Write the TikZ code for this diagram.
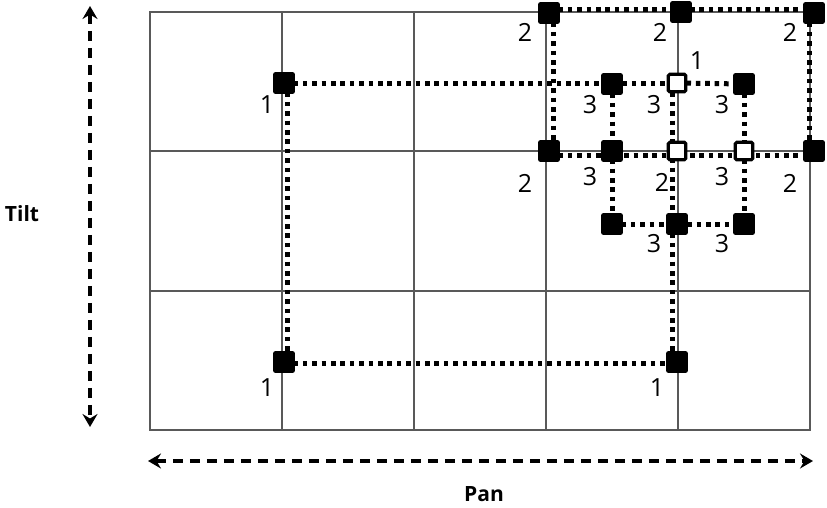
\documentclass[tikz,border=0pt]{standalone}
\usepackage{fontspec}
\setmainfont{Open Sans}
\usetikzlibrary{arrows.meta}
\begin{document}
\begin{tikzpicture}[x=1pt,y=-1pt,
  gridline/.style={draw=black!65,line width=1.4pt},
  blk/.style={fill=black,draw=black,line width=0.8pt,minimum size=21pt,inner sep=0pt,rounded corners=2pt},
  wht/.style={fill=white,draw=black,line width=3.2pt,minimum size=17.5pt,inner sep=0pt,rounded corners=1.5pt},
  dots/.style={draw=black,line width=5pt,dash pattern=on 4.6pt off 4.8pt},
  lbl/.style={font=\fontsize{25}{25}\selectfont,inner sep=0pt},
  axis/.style={draw=black,line width=3.4pt,dash pattern=on 10pt off 7pt,{Stealth[length=13pt,width=15pt,inset=4.5pt]}-{Stealth[length=13pt,width=15pt,inset=4.5pt]}},
  axlbl/.style={font=\fontsize{21}{21}\selectfont\bfseries,inner sep=0pt}]
\useasboundingbox (0,0) rectangle (827,507);
% grid
\foreach \x in {282,414,546,678} \draw[gridline] (\x,12) -- (\x,430);
\foreach \y in {151,291} \draw[gridline] (150,\y) -- (810,\y);
\draw[gridline] (150,12) rectangle (810,430);
% positions
\coordinate (s1a) at (284,83);
\coordinate (s1b) at (677,83);
\coordinate (s1c) at (284,362);
\coordinate (s1d) at (677,362);
\coordinate (s2a) at (549,13);
\coordinate (s2b) at (681,12);
\coordinate (s2c) at (814,13);
\coordinate (s2d) at (549,151);
\coordinate (s2e) at (677,151);
\coordinate (s2f) at (814,151);
\coordinate (s3a) at (612,84);
\coordinate (s3c) at (744,84);
\coordinate (s3d) at (612,151);
\coordinate (s3f) at (744,151);
\coordinate (s3g) at (612,224);
\coordinate (s3h) at (677,224);
\coordinate (s3i) at (744,224);
% dotted connectors
\draw[dots] (s1a) -- (s1b);
\draw[dots] ([xshift=3pt]s1a) -- ([xshift=3pt]s1c);
\draw[dots] ([yshift=-1pt]s1c) -- ([yshift=-1pt]s1d);
\draw[dots] ([xshift=-5pt]s1b) -- ([xshift=-5pt]s1d);
\draw[dots] ([yshift=4pt]s2a) -- ([yshift=4pt]s2c);
\draw[dots] ([xshift=4pt]s2a) -- ([xshift=4pt]s2d);
\draw[dots] ([xshift=-5pt]s2c) -- ([xshift=-5pt]s2f);
\draw[dots] ([yshift=-4pt]s2d) -- ([yshift=-4pt]s2f);
\draw[dots] (s1b) -- (s3c);
\draw[dots] (s3a) -- (s3g);
\draw[dots] (s3c) -- (s3i);
\draw[dots] (s3g) -- (s3i);
% squares
\foreach \n in {s1a,s1c,s1d,s2a,s2b,s2c,s2d,s2f,s3a,s3c,s3d,s3g,s3h,s3i}
  \node[blk] (n\n) at (\n) {};
\foreach \n in {s1b,s2e,s3f}
  \node[wht] (n\n) at (\n) {};
% labels
\node[lbl] (l1a) at (267,105) {1};
\node[lbl] (l1b) at (697,61) {1};
\node[lbl] (l1c) at (267,388) {1};
\node[lbl] (l1d) at (657,388) {1};
\node[lbl] (l2a) at (525,32) {2};
\node[lbl] (l2b) at (660,32) {2};
\node[lbl] (l2c) at (790,32) {2};
\node[lbl] (l2d) at (525,183) {2};
\node[lbl] (l2e) at (662,182) {2};
\node[lbl] (l2f) at (790,183) {2};
\node[lbl] (l3a) at (590,105) {3};
\node[lbl] (l3b) at (654,105) {3};
\node[lbl] (l3c) at (722,105) {3};
\node[lbl] (l3d) at (590,177) {3};
\node[lbl] (l3e) at (722,177) {3};
\node[lbl] (l3f) at (654,244) {3};
\node[lbl] (l3g) at (722,244) {3};
% axes
\coordinate (tt) at (90,6);
\coordinate (tb) at (90,427);
\coordinate (pl) at (148,461);
\coordinate (pr) at (813,461);
\draw[axis] (tt) -- (tb);
\draw[axis] (pl) -- (pr);
\node[axlbl] (tilt) at (22,214) {Tilt};
\node[axlbl] (pan) at (484,494) {Pan};
\end{tikzpicture}
\end{document}
